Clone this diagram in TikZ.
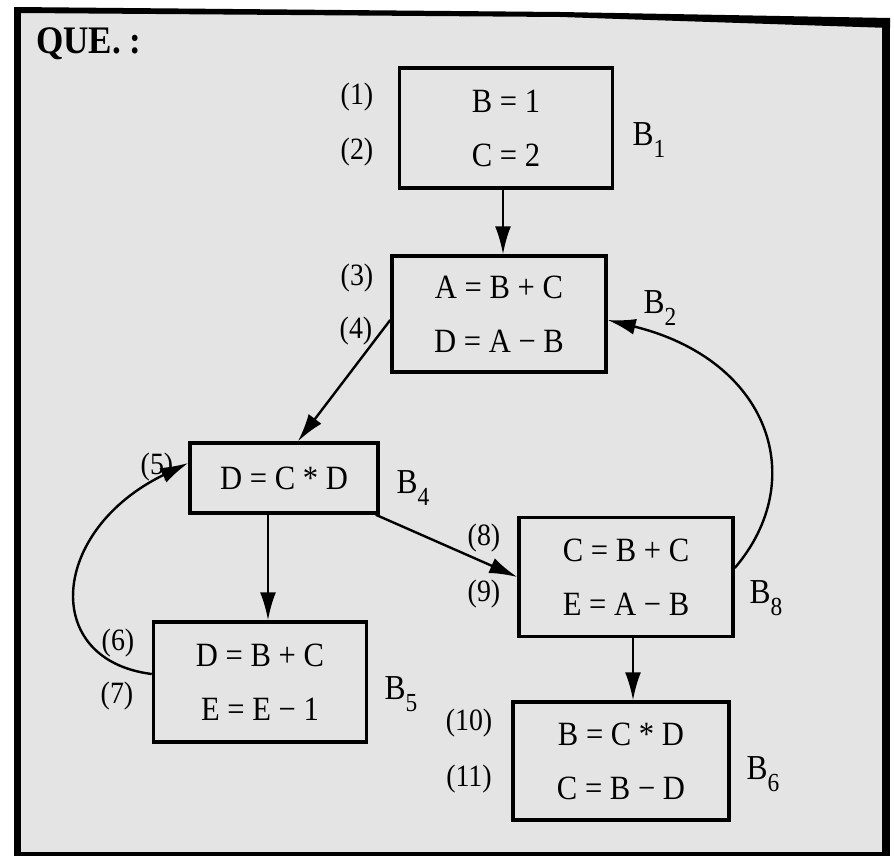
\documentclass[tikz,border=0pt]{standalone}
\usepackage{fontspec}
\setmainfont[FakeStretch=0.9]{Liberation Serif}
\usetikzlibrary{arrows.meta}
\definecolor{pagebg}{RGB}{228,228,228}
\tikzset{
  blk/.style={draw=black, line width=3.5pt, rectangle, inner sep=0pt, align=center,
    font=\fontsize{34}{54}\selectfont},
  lbl/.style={font=\fontsize{31}{31}\selectfont, inner sep=0pt},
  bname/.style={font=\fontsize{35}{35}\selectfont, inner sep=0pt},
  edge/.style={line width=2.4pt, -{Latex[length=28pt,width=16pt]}},
}
\newcommand{\bsub}[1]{B\raisebox{-12pt}{\fontsize{26}{26}\selectfont #1}}
\begin{document}
\begin{tikzpicture}[x=1pt,y=-1pt]
\useasboundingbox (0,0) rectangle (894,856);
\fill[white] (0,0) rectangle (894,856);
% page with frame
\fill[pagebg] (17,10) -- (886,22) -- (886,855) -- (17,855) -- cycle;
\fill[black] (14,7) -- (560,12) -- (890,18) -- (890,28) -- (560,17) -- (21,13) -- cycle;
\fill[black] (14,7) rectangle (21,856);
\fill[black] (882,18) rectangle (890,856);
\fill[black] (14,852) rectangle (890,856);

\node[font=\fontsize{39}{39}\selectfont\bfseries, anchor=base west, inner sep=0pt] (que) at (36,54) {QUE. :};

% blocks
\node[blk, minimum width=213pt, minimum height=120pt] (B1) at (506,128) {B = 1\\C = 2};
\node[blk, minimum width=214pt, minimum height=116pt] (B2) at (499,314) {A = B + C\\D = A − B};
\node[blk, minimum width=188pt, minimum height=70pt] (B4) at (284,478) {D = C * D};
\node[blk, minimum width=213pt, minimum height=120pt] (B5) at (260,682) {D = B + C\\E = E − 1};
\node[blk, minimum width=214pt, minimum height=119pt] (B8) at (626,577) {C = B + C\\E = A − B};
\node[blk, minimum width=216pt, minimum height=118pt] (B6) at (621,761) {B = C * D\\C = B − D};

% statement numbers
\node[lbl] (n1) at (357,97) {(1)};
\node[lbl] (n2) at (357,152) {(2)};
\node[lbl] (n3) at (357,278) {(3)};
\node[lbl] (n4) at (356,331) {(4)};
\node[lbl] (n5) at (157,467) {(5)};
\node[lbl] (n6) at (118,643) {(6)};
\node[lbl] (n7) at (117,696) {(7)};
\node[lbl] (n8) at (484,538) {(8)};
\node[lbl] (n9) at (484,594) {(9)};
\node[lbl] (n10) at (469,723) {(10)};
\node[lbl] (n11) at (469,779) {(11)};

% block names
\node[bname] (l1) at (649,140) {\bsub{1}};
\node[bname] (l2) at (660,308) {\bsub{2}};
\node[bname] (l4) at (413,488) {\bsub{4}};
\node[bname] (l5) at (401,694) {\bsub{5}};
\node[bname] (l8) at (766,598) {\bsub{8}};
\node[bname] (l6) at (763,774) {\bsub{6}};

% connectors
\draw[edge] ([xshift=-3pt]B1.south) -- ([xshift=-3pt]B1.south |- B2.north);
\draw[edge] ([yshift=-6pt]B2.west) -- ([xshift=14pt]B4.north);
\draw[edge] ([xshift=-16pt]B4.south) -- ([xshift=-16pt]B4.south |- B5.north);
\draw[edge] ([xshift=-4pt]B4.south east) -- (B8.west);
\draw[edge] ([xshift=7pt]B8.south) -- ([xshift=7pt]B8.south |- B6.north);
\draw[edge] ([yshift=9pt]B8.east) .. controls (810,480) and (770,360) .. ([yshift=-6pt]B2.east);
\draw[edge] ([yshift=8pt]B5.west) .. controls (40,660) and (50,530) .. ([yshift=15pt]B4.west);
\end{tikzpicture}
\end{document}
